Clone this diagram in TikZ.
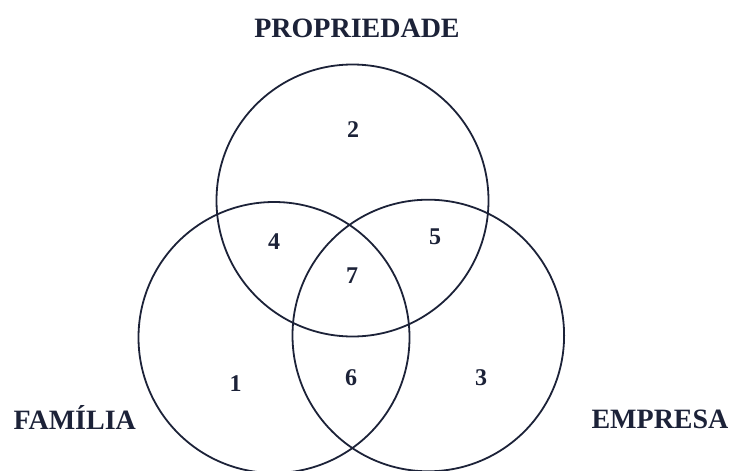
\documentclass[tikz,border=0pt]{standalone}
\usepackage{fontspec}
\setmainfont{Liberation Serif}
\definecolor{ink}{RGB}{28,34,56}
\begin{document}
\begin{tikzpicture}[x=1pt,y=-1pt,
  ring/.style={draw=ink,line width=1.8pt},
  setlabel/.style={font=\bfseries\fontsize{28}{30}\selectfont,text=ink,inner sep=0pt,anchor=base},
  region/.style={font=\bfseries\fontsize{24}{26}\selectfont,text=ink,inner sep=0pt}]
\useasboundingbox (0,0) rectangle (734,471);
\draw[ring] (352.5,200.5) circle (136);
\draw[ring] (274,337.5) circle (135.5);
\draw[ring] (428.3,335.5) circle (135.8);
\node[setlabel] (prop) at (357,37.7) {PROPRIEDADE};
\node[setlabel] (fam) at (74.7,429.3) {FAMÍLIA};
\node[setlabel] (emp) at (660,428.5) {EMPRESA};
\node[region] (r2) at (353,130) {2};
\node[region] (r4) at (274,241.7) {4};
\node[region] (r5) at (435,236.7) {5};
\node[region] (r7) at (352,275.7) {7};
\node[region] (r1) at (235.5,384) {1};
\node[region] (r6) at (351,377.7) {6};
\node[region] (r3) at (481,377.7) {3};
\end{tikzpicture}
\end{document}
